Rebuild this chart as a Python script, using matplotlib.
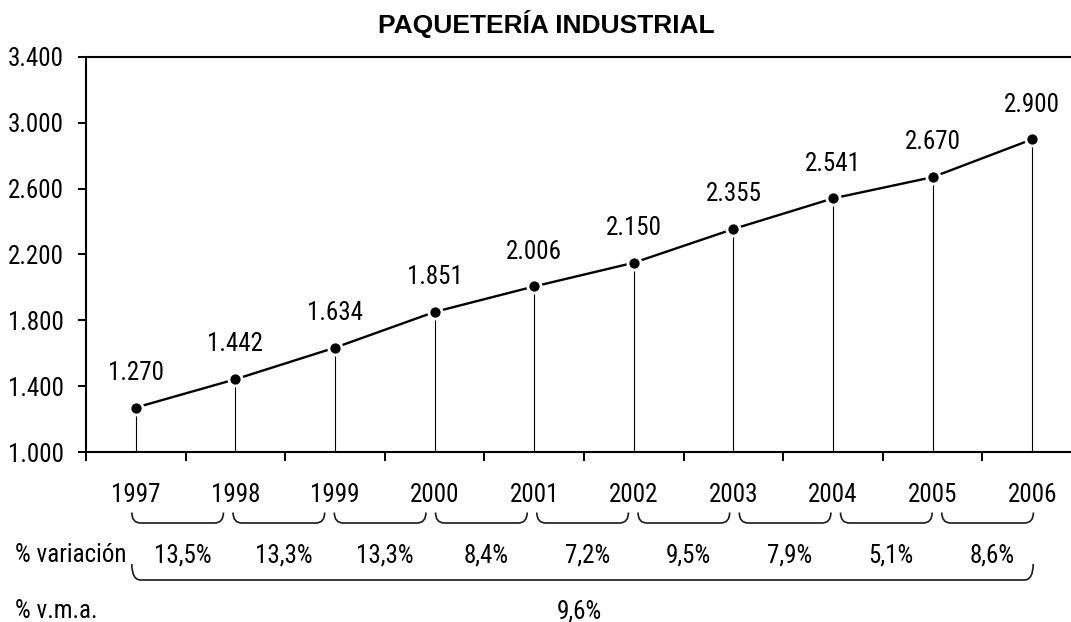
import matplotlib
matplotlib.use("Agg")
import matplotlib.pyplot as plt
from matplotlib import font_manager, transforms
from matplotlib.path import Path
from matplotlib.patches import PathPatch
import numpy as np

# ---------------- data ----------------
years = ["1997", "1998", "1999", "2000", "2001", "2002", "2003", "2004", "2005", "2006"]
values = [1270, 1442, 1634, 1851, 2006, 2150, 2355, 2541, 2670, 2900]
value_labels = ["1.270", "1.442", "1.634", "1.851", "2.006", "2.150", "2.355", "2.541", "2.670", "2.900"]
variation_labels = ["13,5%", "13,3%", "13,3%", "8,4%", "7,2%", "9,5%", "7,9%", "5,1%", "8,6%"]
vma_label = "9,6%"
yticks = [1000, 1400, 1800, 2200, 2600, 3000, 3400]
ytick_labels = ["1.000", "1.400", "1.800", "2.200", "2.600", "3.000", "3.400"]
title = "PAQUETERÍA INDUSTRIAL"

# ---------------- fonts ----------------
entries = font_manager.fontManager.ttflist
names = {f.name for f in entries}
NARROW, FS, STRETCH = "Liberation Sans", 16, "normal"
if "Liberation Sans Narrow" in names:
    NARROW, FS = "Liberation Sans Narrow", 18
elif "Roboto Condensed" in names:
    NARROW, FS = "Roboto Condensed", 18
elif "Arial Narrow" in names:
    NARROW, FS = "Arial Narrow", 18
plt.rcParams["font.family"] = [NARROW, "DejaVu Sans"]
plt.rcParams["font.stretch"] = STRETCH

W, H = 1071, 622
fig = plt.figure(figsize=(W / 100, H / 100), dpi=100)
fig.patch.set_facecolor("white")

L, R, T, B = 86, 1082, 57, 452
ax = fig.add_axes([L / W, 1 - B / H, (R - L) / W, (B - T) / H])

x = np.arange(len(years))
ax.set_xlim(-0.5, len(years) - 0.5)
ax.set_ylim(yticks[0], yticks[-1])

# drop lines
ax.vlines(x, yticks[0], values, colors="black", linewidth=0.8, zorder=2)
# data line
ax.plot(x, values, color="black", linewidth=1.7, zorder=3, solid_capstyle="butt")
ax.plot(x, values, linestyle="none", marker="o", markersize=10.5,
        markerfacecolor="white", markeredgecolor="white", zorder=4)
ax.plot(x, values, linestyle="none", marker="o", markersize=7.4,
        markerfacecolor="black", markeredgecolor="black", markeredgewidth=0, zorder=5)

for xi, v, lab in zip(x, values, value_labels):
    ax.annotate(lab, (xi, v), xytext=(0, 20), textcoords="offset points",
                ha="center", va="baseline", fontsize=FS, color="black", zorder=6)

# axes styling
ax.set_yticks(yticks)
ax.set_yticklabels(ytick_labels, fontsize=FS)
ax.set_xticks(np.arange(-0.5, len(years), 1.0))
ax.set_xticklabels([])
ax.tick_params(axis="y", direction="out", length=5.8, width=1.44, pad=10, colors="black")
ax.tick_params(axis="x", direction="out", length=6.5, width=1.44, colors="black")
for s in ["left", "bottom", "top", "right"]:
    ax.spines[s].set_linewidth(1.5)
    ax.spines[s].set_color("black")

fig.text(546 / W, 1 - 33 / H, title, ha="center", va="baseline",
         fontsize=19, fontweight="bold", family=["Liberation Sans", "DejaVu Sans"])

# ---------------- bottom annotations ----------------
bt = transforms.blended_transform_factory(ax.transData, fig.transFigure)

def fy(py):
    return 1 - py / H

for xi, lab in zip(x, years):
    fig.text(xi, fy(501.5), lab, transform=bt, ha="center", va="baseline", fontsize=FS)

def brace(x0, x1, ytop, ybot, r):
    verts = [(x0, fy(ytop)), (x0, fy(ybot)), (x0 + r, fy(ybot)),
             (x1 - r, fy(ybot)), (x1, fy(ybot)), (x1, fy(ytop))]
    codes = [Path.MOVETO, Path.CURVE3, Path.CURVE3, Path.LINETO, Path.CURVE3, Path.CURVE3]
    p = PathPatch(Path(verts, codes), transform=bt, fill=False, edgecolor="#1a1a1a",
                  linewidth=1.2, clip_on=False, capstyle="butt")
    fig.add_artist(p)

for i, lab in enumerate(variation_labels):
    x0 = i * 1.0165 - 0.04
    x1 = x0 + 0.92
    brace(x0, x1, 512.5, 523, 0.09)
    fig.text((x0 + x1) / 2 + 0.05, fy(562), lab, transform=bt, ha="center",
             va="baseline", fontsize=FS)

fig.text(15 / W, fy(562), "% variación", ha="left", va="baseline", fontsize=FS)

brace(-0.04, len(years) - 1 + 0.01, 564, 580, 0.09)
fig.text(579 / W, fy(618), vma_label, ha="center", va="baseline", fontsize=FS)
fig.text(15 / W, fy(618), "% v.m.a.", ha="left", va="baseline", fontsize=FS)

fig.savefig("out.png", dpi=100, facecolor="white")
